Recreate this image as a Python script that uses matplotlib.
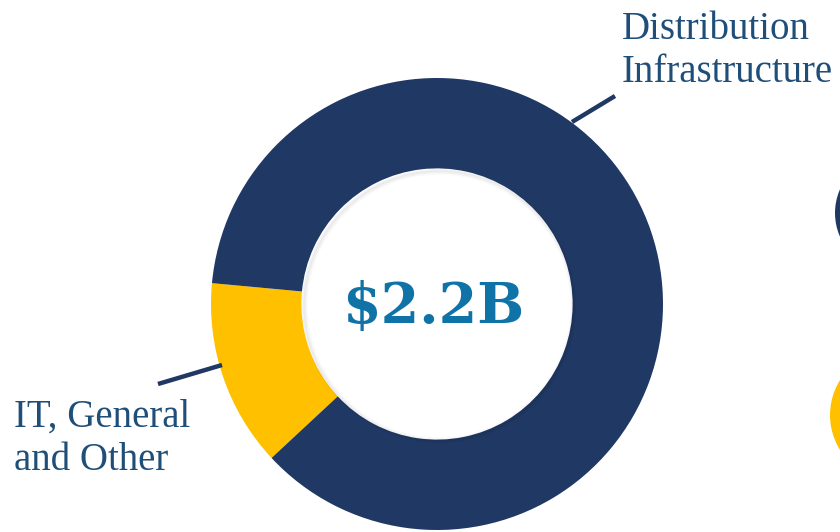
import matplotlib.pyplot as plt
from matplotlib.patches import Circle

# data
segments = ["IT, General\nand Other", "Distribution\nInfrastructure"]
shares = [13.4, 86.6]
colors = ["#FFC000", "#203864"]
total_label = "$2.2B"

W, H = 840, 532
fig = plt.figure(figsize=(W / 100, H / 100), dpi=100)
ax = fig.add_axes([0, 0, 1, 1])

cx, cy, R = 437, H - 304, 226

ax.pie(shares, colors=colors, startangle=174.7, counterclock=True,
       center=(cx, cy), radius=R,
       wedgeprops=dict(width=R * 0.4, edgecolor="none", linewidth=0))

# soft shadow on the inner edge of the ring
for i, a in enumerate([0.05, 0.035, 0.02]):
    ax.add_patch(Circle((cx + 2, cy - 2), R * 0.6 - i * 1.5, fill=False,
                        edgecolor="black", alpha=a, linewidth=2, zorder=3))

ax.text(433, H - 323, total_label, ha="center", va="baseline", fontsize=40,
        fontweight="bold", family="DejaVu Serif", color="#0F73A8")

# leader lines
ax.plot([572, 615], [H - 122, H - 96], color="#203864", lw=3.2,
        solid_capstyle="butt")
ax.plot([158, 222], [H - 384, H - 365], color="#203864", lw=3.2,
        solid_capstyle="butt")

ax.text(622, H - 11, segments[1], ha="left", va="top", fontsize=28,
        family="Liberation Serif", color="#1F4E79", linespacing=1.2)
ax.text(14, H - 399, segments[0], ha="left", va="top", fontsize=28,
        family="Liberation Serif", color="#1F4E79", linespacing=1.2)

# legend markers cut off at right edge
ax.add_patch(Circle((894, H - 213), 59, color=colors[1], ec="none"))
ax.add_patch(Circle((896, H - 415), 66, color=colors[0], ec="none"))

ax.set_xlim(0, W)
ax.set_ylim(0, H)
ax.set_aspect("equal")
ax.axis("off")

fig.savefig("out.png", dpi=100)
